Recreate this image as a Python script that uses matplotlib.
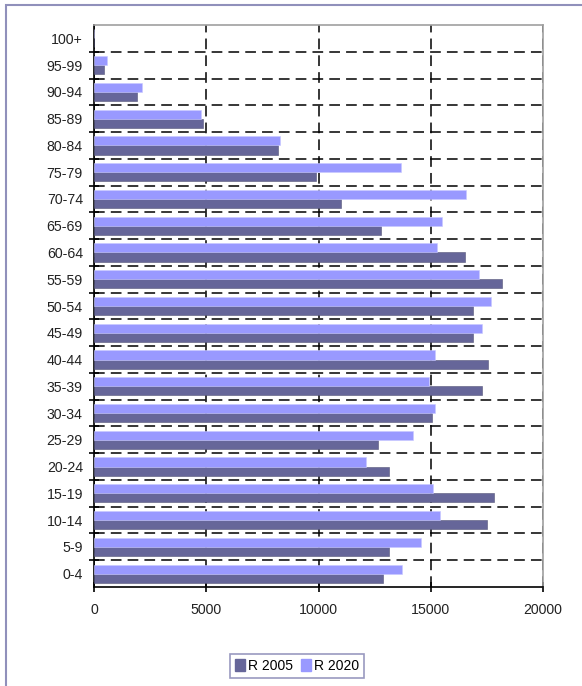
import numpy as np
import matplotlib
matplotlib.use("Agg")
import matplotlib.pyplot as plt
from matplotlib.patches import Rectangle, Patch

plt.rcParams['font.family'] = ['Liberation Sans', 'DejaVu Sans']

groups = ["0-4", "5-9", "10-14", "15-19", "20-24", "25-29", "30-34", "35-39",
          "40-44", "45-49", "50-54", "55-59", "60-64", "65-69", "70-74",
          "75-79", "80-84", "85-89", "90-94", "95-99", "100+"]
r2005 = [12860, 13120, 17490, 17830, 13140, 12640, 15070, 17270, 17550, 16860,
         16860, 18180, 16510, 12790, 10980, 9870, 8210, 4840, 1930, 430, 0]
r2020 = [13740, 14580, 15400, 15120, 12100, 14230, 15210, 14930, 15210, 17270,
         17700, 17140, 15270, 15490, 16580, 13690, 8300, 4760, 2150, 560, 0]

c2005 = '#666699'
c2020 = '#9999ff'

fig = plt.figure(figsize=(5.82, 6.86), dpi=100)
ax = fig.add_axes([94/582, 1-587/686, 449/582, 562/686])

y = np.arange(len(groups))
h = 0.34
ax.barh(y - h/2, r2005, height=h, color=c2005, edgecolor='#55557a', lw=0.4, label='R 2005', zorder=3)
ax.barh(y + h/2, r2020, height=h, color=c2020, edgecolor='#c8c8ff', lw=0.4, label='R 2020', zorder=3)

ax.set_xlim(0, 20000)
ax.set_ylim(-0.5, len(groups) - 0.5)
ax.set_xticks([0, 5000, 10000, 15000, 20000])
ax.set_yticks(y)
ax.set_yticklabels(groups)
ax.set_yticks(np.arange(len(groups) - 1) + 0.5, minor=True)

ax.tick_params(axis='y', which='major', length=0, pad=8, labelsize=10.2, labelcolor='#222222')
ax.tick_params(axis='y', which='minor', length=7, direction='inout', width=1.2)
ax.tick_params(axis='x', which='major', length=7, direction='inout', width=1.2, pad=8,
               labelsize=10.2, labelcolor='#222222')

ax.grid(axis='y', which='minor', color='black', linestyle=(0, (7, 4)), lw=1.1, zorder=1)
ax.grid(axis='x', which='major', color='black', linestyle=(0, (7, 4)), lw=1.1, zorder=1)

for s in ['top', 'right']:
    ax.spines[s].set_color('#a0a0a0')
    ax.spines[s].set_linewidth(1.2)
for s in ['left', 'bottom']:
    ax.spines[s].set_color('black')
    ax.spines[s].set_linewidth(1.2)

# outer chart frame
fig.patches.append(Rectangle((6/582, -0.02), 1.0, 1 - 5/686 + 0.02, transform=fig.transFigure,
                             fill=False, edgecolor='#9090bb', lw=1.5))

handles = [Patch(facecolor=c2005, edgecolor=c2005), Patch(facecolor=c2020, edgecolor=c2020)]
leg = fig.legend(handles, ['R 2005', 'R 2020'], loc='center', bbox_to_anchor=(297/582, 1-666/686),
                 ncol=2, fontsize=10, frameon=True, fancybox=False, handlelength=0.7,
                 handleheight=1.0, handletextpad=0.2, columnspacing=0.6, borderpad=0.35)
leg.get_frame().set_edgecolor('#8080b0')
leg.get_frame().set_linewidth(1.2)

fig.savefig('out.png', dpi=100)
